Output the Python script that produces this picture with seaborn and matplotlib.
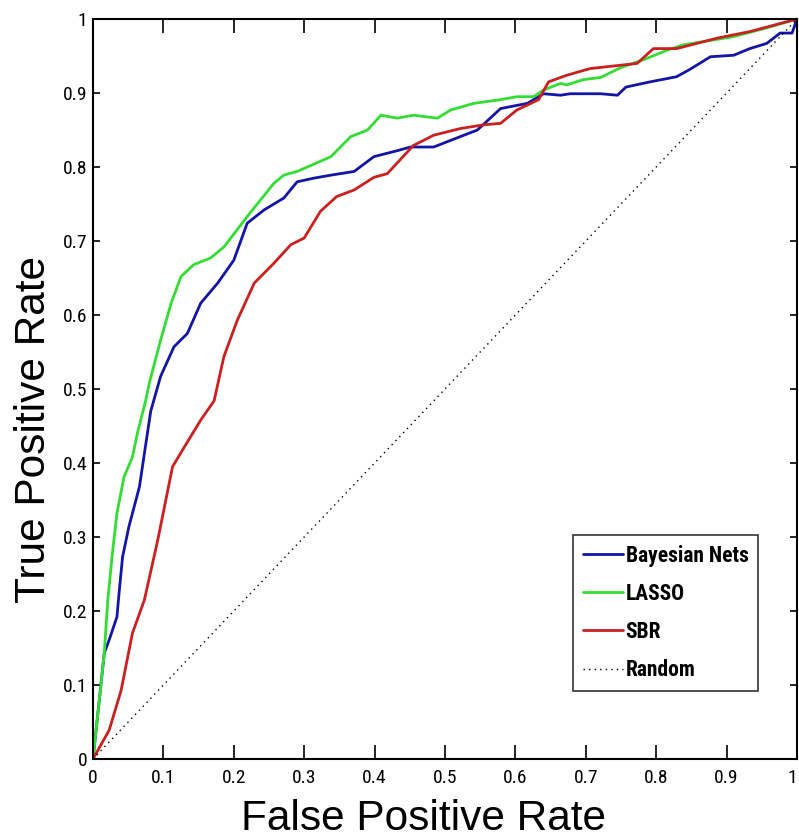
import matplotlib
matplotlib.use("Agg")
import matplotlib.pyplot as plt
import seaborn as sns
import pandas as pd

# ROC curves: false positive rate vs true positive rate per method
bayes_fpr = [0, 0.009, 0.016, 0.023, 0.034, 0.037, 0.042, 0.051, 0.066, 0.073, 0.082, 0.096,
             0.115, 0.134, 0.153, 0.177, 0.200, 0.219, 0.243, 0.271, 0.290, 0.314, 0.338,
             0.371, 0.399, 0.432, 0.451, 0.484, 0.508, 0.546, 0.579, 0.617, 0.640, 0.664,
             0.678, 0.721, 0.745, 0.757, 0.791, 0.829, 0.848, 0.877, 0.910, 0.933, 0.957,
             0.976, 0.993, 1.0]
bayes_tpr = [0, 0.08, 0.143, 0.161, 0.192, 0.224, 0.273, 0.314, 0.368, 0.413, 0.470, 0.517,
             0.557, 0.575, 0.616, 0.643, 0.674, 0.724, 0.742, 0.758, 0.780, 0.785, 0.789,
             0.794, 0.814, 0.822, 0.827, 0.827, 0.836, 0.850, 0.879, 0.886, 0.899, 0.897,
             0.899, 0.899, 0.897, 0.908, 0.915, 0.922, 0.932, 0.949, 0.951, 0.960, 0.967,
             0.981, 0.981, 1.0]

lasso_fpr = [0, 0.016, 0.021, 0.028, 0.034, 0.044, 0.056, 0.063, 0.075, 0.080, 0.096, 0.111,
             0.125, 0.143, 0.167, 0.186, 0.219, 0.257, 0.271, 0.290, 0.338, 0.366, 0.390,
             0.409, 0.432, 0.455, 0.489, 0.508, 0.541, 0.579, 0.602, 0.626, 0.640, 0.664,
             0.673, 0.696, 0.721, 0.749, 0.782, 0.816, 0.838, 0.909, 0.957, 1.0]
lasso_tpr = [0, 0.143, 0.215, 0.282, 0.332, 0.381, 0.408, 0.44, 0.485, 0.508, 0.566, 0.616,
             0.652, 0.668, 0.677, 0.692, 0.733, 0.778, 0.789, 0.794, 0.814, 0.841, 0.850,
             0.870, 0.866, 0.870, 0.866, 0.877, 0.886, 0.891, 0.895, 0.895, 0.904, 0.913,
             0.911, 0.918, 0.921, 0.934, 0.945, 0.958, 0.965, 0.976, 0.988, 1.0]

sbr_fpr = [0, 0.023, 0.040, 0.056, 0.073, 0.092, 0.113, 0.130, 0.153, 0.172, 0.186, 0.205,
           0.229, 0.257, 0.281, 0.300, 0.323, 0.346, 0.371, 0.399, 0.418, 0.455, 0.484,
           0.522, 0.555, 0.579, 0.602, 0.633, 0.647, 0.673, 0.706, 0.773, 0.796, 0.829,
           0.886, 0.933, 1.0]
sbr_tpr = [0, 0.039, 0.093, 0.170, 0.215, 0.296, 0.395, 0.422, 0.458, 0.484, 0.544, 0.593,
           0.643, 0.670, 0.695, 0.704, 0.740, 0.760, 0.769, 0.786, 0.791, 0.829, 0.843,
           0.852, 0.857, 0.859, 0.877, 0.891, 0.915, 0.924, 0.933, 0.940, 0.960, 0.960,
           0.974, 0.983, 1.0]

random_fpr = [0, 1]
random_tpr = [0, 1]

methods = ["Bayesian Nets", "LASSO", "SBR"]
colors = ["#1414a8", "#33dd33", "#cc1f1f"]
tick_values = [0, 0.1, 0.2, 0.3, 0.4, 0.5, 0.6, 0.7, 0.8, 0.9, 1]
tick_labels = ["0", "0.1", "0.2", "0.3", "0.4", "0.5", "0.6", "0.7", "0.8", "0.9", "1"]

frames = []
for name, fx, fy in zip(methods, [bayes_fpr, lasso_fpr, sbr_fpr], [bayes_tpr, lasso_tpr, sbr_tpr]):
    frames.append(pd.DataFrame({"fpr": fx, "tpr": fy, "method": name}))
df = pd.concat(frames, ignore_index=True)

sns.set_style("white")
plt.rcParams["font.family"] = ["Liberation Sans", "DejaVu Sans"]
plt.rcParams["text.color"] = "black"
plt.rcParams["axes.labelcolor"] = "black"

fig = plt.figure(figsize=(7.99, 8.39), dpi=100)
ax = fig.add_axes([93 / 799, 1 - 759 / 839, (797 - 93) / 799, (759 - 19) / 839])

sns.lineplot(data=df, x="fpr", y="tpr", hue="method", hue_order=methods,
             palette=colors, estimator=None, sort=False, linewidth=2.0, ax=ax)
sns.lineplot(x=random_fpr, y=random_tpr, color="black", linestyle=(0, (1, 3)),
             linewidth=1.0, label="Random", ax=ax)

ax.set_xlim(0, 1)
ax.set_ylim(0, 1)
ax.set_xticks(tick_values)
ax.set_yticks(tick_values)
narrow = ["Roboto Condensed", "Liberation Sans Narrow", "Roboto", "DejaVu Sans"]
ax.set_xticklabels(tick_labels, family=narrow, fontsize=14)
ax.set_yticklabels(tick_labels, family=narrow, fontsize=14)
# keep the last x label inside the figure edge
ax.get_xticklabels()[-1].set_horizontalalignment("right")
ax.tick_params(axis="x", direction="in", length=10, width=1.2, top=True, bottom=True,
               pad=7, colors="black")
ax.tick_params(axis="y", direction="in", length=5, width=1.2, left=True, right=True,
               pad=4, colors="black")
for s in ax.spines.values():
    s.set_color("black")
    s.set_linewidth(1.5)

ax.set_xlabel("False Positive Rate", fontsize=30.5)
ax.set_ylabel("True Positive Rate", fontsize=30.5)
ax.xaxis.set_label_coords(0.470, -0.0959, transform=ax.transAxes)
ax.xaxis.label.set_verticalalignment("baseline")
ax.yaxis.set_label_coords(-0.055, 0.445, transform=ax.transAxes)

handles, labels = ax.get_legend_handles_labels()
leg = ax.legend(handles, labels, loc="upper left",
                bbox_to_anchor=(573 / 799, 1 - 535 / 839), bbox_transform=fig.transFigure,
                borderaxespad=0, frameon=True, fancybox=False, handlelength=1.85,
                handletextpad=0.15, labelspacing=0.75, borderpad=0.45,
                prop={"family": narrow, "weight": "bold", "size": 15.5})
leg.get_frame().set_edgecolor("black")
leg.get_frame().set_linewidth(1.2)
for t in leg.get_texts():
    t.set_color("black")

fig.savefig("out.png", dpi=100)
